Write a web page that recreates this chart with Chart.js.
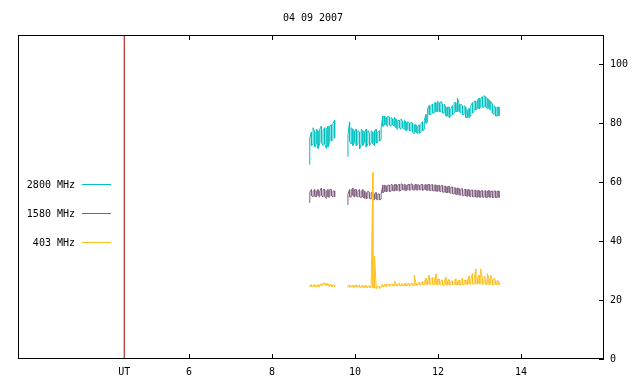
<!DOCTYPE html>
<html>
<head>
<meta charset="utf-8">
<script src="https://cdn.jsdelivr.net/npm/chart.js@4/dist/chart.umd.min.js"></script>
<style>
  html, body { margin: 0; padding: 0; background: #fff; }
  #radio { display: block; }
</style>
</head>
<body>
<canvas id="radio" width="640" height="384"></canvas>
<script>
// flux readings for 04 09 2007 (hours UT)
var title = '04 09 2007';
var bandLabels = ['2800 MHz', '1580 MHz', '403 MHz'];
var bandColors = ['#00c0c0', '#806080', '#ffc020'];
var xTicks = [6, 8, 10, 12, 14];
var yTicks = [0, 20, 40, 60, 80, 100];
var utHour = 4.44;

// two observing runs, one min/max reading every 0.04 h
var run1Start = 8.91;
var run2Start = 9.83;
var sampleStep = 0.04;

var hi2800a = [75, 77, 78.5, 77, 78, 77.5, 78, 79, 77.5, 78.5, 78, 79, 79, 79.5, 80, 81];
var lo2800a = [66, 72.5, 73, 72, 73, 71.5, 73, 73.5, 72.5, 73, 71.5, 72, 73.5, 74, 74.5, 75];
var hi2800b = [76, 80.5, 78.5, 78, 77.5, 78, 77.5, 77, 78, 77.5, 77, 78, 77.5, 76.5, 77.5, 77, 77.5, 78, 77, 77.5, 78.5,
  82.5, 82.5, 82, 82.5, 82, 82, 81.5, 82, 81.5, 81, 81, 81.5, 80.5, 81, 80.5, 80.5, 80, 80.5, 80, 79.5, 79.5, 79, 79.5, 80, 80.5, 81, 83,
  85, 86, 86, 86.5, 87, 87, 87.5, 87, 87.5, 86.5, 86.5, 85.5, 85.5, 85.5, 85, 86, 87, 87, 88.6, 86.5, 86.5, 86,
  86, 85.5, 84.5, 85, 86, 87, 87.5, 87.5, 88, 88.5, 88.5, 89, 89.4, 89, 88.5, 88, 87.5, 86.5, 86, 85.5, 85.5, 85.5];
var lo2800b = [68.7, 74, 73, 72.5, 73.5, 72.5, 73, 71.3, 73, 72.5, 73.5, 72, 73, 72.5, 73.5, 73, 72.5, 73.5, 73.5, 74, 74.5,
  79, 79.5, 79.5, 79, 79.5, 79, 79.5, 79, 78.5, 78, 78.5, 78, 78.5, 78, 77.5, 78, 77.5, 77.5, 77, 76.5, 77, 76.5, 76.7, 77, 77.5, 78, 80,
  80.5, 83, 83, 83.5, 83.5, 84, 84, 84, 84, 83.5, 83.5, 82.5, 82.5, 82, 82.5, 83, 83.5, 84, 84, 84, 83.5, 83,
  83, 82, 82, 82, 82.5, 83.5, 84, 84.5, 85, 85, 85.5, 85.5, 85.5, 85.5, 85, 85, 84.5, 83.5, 83, 82.5, 82.5, 82.5];

var hi1580a = [56.5, 57.5, 57, 57.5, 57, 57.5, 57, 58, 57.5, 57.5, 57, 57.5, 57.5, 57.5, 57, 57];
var lo1580a = [53, 55.5, 55, 55.3, 55, 55.5, 55, 55.5, 55, 55.3, 54.5, 55, 55, 55.5, 55, 55];
var hi1580b = [56, 57.5, 57.5, 58, 57.5, 57.5, 57, 57.5, 57, 57.5, 57, 56.5, 57, 56.5, 56.5, 56.5, 56, 56.5, 56, 56, 56,
  59, 59, 58.8, 59, 59, 59.3, 59, 59.2, 59.3, 59, 59.3, 59.5, 59.2, 59.3, 59, 59.2, 59.3, 59.5, 59.2, 59, 59.3, 59.2, 59, 59.3, 59.2, 59, 59.2,
  59.2, 59.3, 59.1, 59.2, 59, 59.1, 58.9, 59, 58.8, 58.9, 58.7, 58.6, 58.5, 58.6, 58.3, 58.4, 58.2, 58, 58.1, 57.8, 57.7, 57.8,
  57.5, 57.6, 57.4, 57.5, 57.3, 57.4, 57.2, 57.3, 57.1, 57.2, 57, 57.2, 57, 57.1, 57, 57.2, 57, 57, 57.1, 57, 57, 57];
var lo1580b = [52.3, 55, 55, 55.5, 55, 55.3, 55, 55, 54.8, 55, 54.5, 54.5, 54.7, 54.5, 54.3, 54.5, 54, 54.3, 54, 54, 54.3,
  56.5, 56.8, 56.8, 57, 56.8, 57, 57.2, 57, 57.2, 57.3, 57, 57.3, 57.5, 57.3, 57.2, 57.5, 57.3, 57.5, 57.5, 57.3, 57.5, 57.3, 57.5, 57.4, 57.3, 57.5, 57.4,
  57.2, 57.3, 57.1, 57.2, 57, 57, 56.9, 57, 56.8, 56.7, 56.6, 56.6, 56.4, 56.5, 56.2, 56.2, 56, 55.9, 55.9, 55.7, 55.6, 55.6,
  55.4, 55.4, 55.2, 55.3, 55.1, 55.2, 55, 55, 54.9, 55, 54.9, 55, 54.9, 54.9, 54.8, 55, 54.9, 54.8, 54.9, 54.8, 54.9, 54.8];

var hi403a = [25, 25.2, 25, 25.2, 25, 25.2, 25.3, 25.5, 25.8, 25.8, 25.6, 25.5, 25.3, 25.2, 25.2, 25];
var lo403a = [24.4, 24.6, 24.5, 24.6, 24.5, 24.6, 24.6, 24.8, 25, 25.2, 25, 24.9, 24.7, 24.6, 24.6, 24.5];
var hi403b = [24.9, 25, 24.9, 25, 25, 25.1, 24.9, 25, 24.8, 25, 24.8, 24.9, 24.7, 24.9, 24.8,
  63.3, 35, 24.6, 24.7, 24.6, 24.8,
  25.2, 25.3, 25.3, 25.4, 25.3, 25.5, 25.4, 26.5, 25.5, 25.4, 25.6, 25.4, 25.5, 25.6, 25.5, 25.6, 25.5, 25.7, 25.6, 28.5, 25.6, 25.7, 26, 25.8, 26.4, 26,
  27.5, 26.5, 28.5, 27, 27.8, 26.5, 28.9, 27, 27.2, 26.5, 26.8, 26.3, 27.8, 26.5, 27, 26.4, 26.5, 26.6, 27.2, 26.4, 26.8, 26.5,
  27.5, 26.6, 26.8, 26.8, 28.2, 27, 29, 27, 30.6, 27.3, 28.5, 30.6, 27.2, 28.2, 27, 29, 27.2, 28.5, 26.8, 27.5, 26.5, 26.8, 26];
var lo403b = [24.2, 24.4, 24.4, 24.5, 24.4, 24.5, 24.4, 24.4, 24.3, 24.4, 24.2, 24.3, 24.2, 24.3, 24.3,
  24.3, 24.1, 24, 24.1, 24, 24.2,
  24.6, 24.7, 24.7, 24.8, 24.7, 24.9, 24.8, 24.9, 24.9, 24.8, 25, 24.8, 24.9, 25, 24.9, 25, 24.9, 25.1, 25, 25.1, 25, 25.1, 25.2, 25.1, 25.3, 25.2,
  25.4, 25.3, 25.5, 25.3, 25.4, 25.1, 25.4, 25.2, 25.3, 25.1, 25.2, 25, 25.3, 25.1, 25.2, 25.1, 25.3, 25.2, 25.3, 25.1, 25.2, 25.1,
  25.3, 25.2, 25.4, 25.3, 25.5, 25.3, 25.5, 25.3, 25.6, 25.4, 25.5, 25.6, 25.4, 25.5, 25.3, 25.5, 25.3, 25.4, 25.2, 25.3, 25.2, 25.3, 25.1];

var monoFont = { family: 'DejaVu Sans Mono', size: 10 };

// each sample becomes a vertical stroke from its min to its max
function pushRun(pts, start, lo, hi) {
  lo.forEach(function (v, i) {
    var t = +(start + i * sampleStep).toFixed(3);
    if (i % 2 === 0) {
      pts.push({ x: t, y: v }, { x: t, y: hi[i] });
    } else {
      pts.push({ x: t, y: hi[i] }, { x: t, y: v });
    }
  });
}

function buildPoints(loA, hiA, loB, hiB) {
  var pts = [];
  pushRun(pts, run1Start, loA, hiA);
  // break the line between the runs
  pts.push({ x: (run1Start + loA.length * sampleStep + run2Start) / 2, y: null });
  pushRun(pts, run2Start, loB, hiB);
  return pts;
}

function lineSet(label, data, color, order) {
  return {
    label: label,
    data: data,
    borderColor: color,
    backgroundColor: color,
    borderWidth: 1,
    pointRadius: 0,
    spanGaps: false,
    tension: 0,
    order: order
  };
}

// gnuplot-ish frame: border box, inward tics, title and left key
var framePlugin = {
  id: 'frame',
  afterDraw: function (chart) {
    var ctx = chart.ctx;
    var a = chart.chartArea;
    var xs = chart.scales.x;
    var ys = chart.scales.y;
    var tic = 5;
    ctx.save();
    ctx.strokeStyle = '#000';
    ctx.lineWidth = 1;
    ctx.strokeRect(Math.round(a.left) + 0.5, Math.round(a.top) + 0.5,
      Math.round(a.right - a.left) - 1, Math.round(a.bottom - a.top) - 1);

    ctx.beginPath();
    xTicks.forEach(function (v) {
      var px = Math.round(xs.getPixelForValue(v)) + 0.5;
      ctx.moveTo(px, a.bottom);
      ctx.lineTo(px, a.bottom - tic);
      ctx.moveTo(px, a.top);
      ctx.lineTo(px, a.top + tic);
    });
    yTicks.forEach(function (v) {
      var py = Math.round(ys.getPixelForValue(v)) + 0.5;
      ctx.moveTo(a.right, py);
      ctx.lineTo(a.right - tic, py);
    });
    ctx.stroke();

    ctx.fillStyle = '#000';
    ctx.font = '10px "DejaVu Sans Mono"';
    ctx.textAlign = 'center';
    ctx.textBaseline = 'middle';
    ctx.fillText(title, (a.left + a.right) / 2 + 2, 18);

    // key on the left
    ctx.textAlign = 'right';
    bandLabels.forEach(function (lab, i) {
      var y = 184 + i * 29;
      ctx.fillStyle = '#000';
      ctx.fillText(lab, 75, y + 1);
      ctx.strokeStyle = bandColors[i];
      ctx.beginPath();
      ctx.moveTo(82, y + 0.5);
      ctx.lineTo(111, y + 0.5);
      ctx.stroke();
    });
    ctx.restore();
  }
};

var chart = new Chart(document.getElementById('radio'), {
  type: 'line',
  data: {
    datasets: [
      lineSet(bandLabels[2], buildPoints(lo403a, hi403a, lo403b, hi403b), bandColors[2], 0),
      lineSet(bandLabels[1], buildPoints(lo1580a, hi1580a, lo1580b, hi1580b), bandColors[1], 1),
      lineSet(bandLabels[0], buildPoints(lo2800a, hi2800a, lo2800b, hi2800b), bandColors[0], 2),
      lineSet('UT', [{ x: utHour, y: 0 }, { x: utHour, y: 110 }], '#a00000', 3)
    ]
  },
  options: {
    responsive: false,
    animation: false,
    devicePixelRatio: 1,
    layout: { padding: { left: 18, top: 35, right: 0, bottom: 0 } },
    plugins: {
      legend: { display: false },
      tooltip: { enabled: false },
      title: { display: false }
    },
    scales: {
      x: {
        type: 'linear',
        position: 'bottom',
        min: 1.88,
        max: 16,
        grid: { display: false, drawTicks: false, tickLength: 0 },
        border: { display: false },
        afterBuildTicks: function (scale) {
          scale.ticks = [utHour].concat(xTicks).map(function (v) { return { value: v }; });
        },
        afterFit: function (scale) { scale.height = 25; },
        ticks: {
          autoSkip: false,
          maxRotation: 0,
          padding: 7,
          color: '#000',
          font: monoFont,
          callback: function (v) { return v === utHour ? 'UT' : String(v); }
        }
      },
      y: {
        type: 'linear',
        position: 'right',
        min: 0,
        max: 110,
        grid: { display: false, drawTicks: false, tickLength: 0 },
        border: { display: false },
        afterBuildTicks: function (scale) {
          scale.ticks = yTicks.map(function (v) { return { value: v }; });
        },
        afterFit: function (scale) { scale.width = 36; },
        ticks: {
          padding: 6,
          color: '#000',
          font: monoFont
        }
      }
    }
  },
  plugins: [framePlugin]
});
</script>
</body>
</html>
